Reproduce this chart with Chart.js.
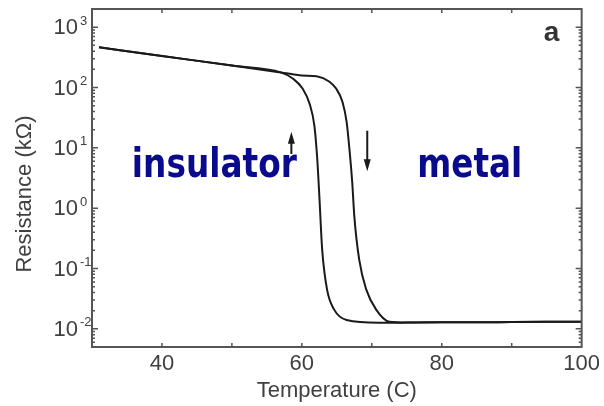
<!DOCTYPE html>
<html>
<head>
<meta charset="utf-8">
<script src="https://cdn.jsdelivr.net/npm/chart.js@4"></script>
<style>
  body { margin: 0; background: #fff; }
</style>
</head>
<body>
<canvas id="myChart" width="604" height="406"></canvas>
<script>
// insulating branch, common to both sweeps
const baseTemp = [31, 40, 50, 57];
const baseRes = [464, 333, 231, 178];

// cooling sweep (switches back at the lower temperature)
const coolTemp = [58.7, 60.1, 61.1, 61.8, 62.2, 62.5, 62.9, 63.6, 64.6, 66.4, 71, 75, 80, 85, 90, 95, 100];
const coolRes = [141, 96, 54, 23, 6.6, 1.6, 0.21, 0.045, 0.021, 0.014, 0.0126, 0.0127, 0.0129, 0.0128, 0.013, 0.0131, 0.0131];

// heating sweep
const heatTemp = [60, 62.1, 63.9, 64.9, 65.8, 66.4, 66.8, 67.2, 67.5, 68.2, 69.2, 70.6, 72.5, 75, 80, 85, 90, 95, 100];
const heatRes = [158, 153, 126, 96, 58, 27, 9.6, 2.7, 0.74, 0.14, 0.045, 0.021, 0.0131, 0.0127, 0.0129, 0.0128, 0.013, 0.0131, 0.0131];

// sweep direction arrows: temperature, start and end resistance
const arrowTemp = [58.5, 69.35];
const arrowFrom = [7.9, 19.2];
const arrowTo = [18.5, 4.1];

const xTicks = [40, 60, 80, 100];
const yDecades = [-2, -1, 0, 1, 2, 3];

const axisColor = '#555';
const textColor = '#404040';
const labelFont = '"Liberation Sans", Arial, sans-serif';

function points(t, r) {
  return t.map((v, i) => ({ x: v, y: r[i] }));
}

const coolPts = points(baseTemp.concat(coolTemp), baseRes.concat(coolRes));
const heatPts = points(baseTemp.concat(heatTemp), baseRes.concat(heatRes));

const frame = {
  id: 'frame',
  afterDatasetsDraw(chart) {
    const { ctx, chartArea: a, scales: { x, y } } = chart;
    ctx.save();

    // box
    ctx.strokeStyle = axisColor;
    ctx.lineWidth = 2;
    ctx.strokeRect(a.left, a.top, a.right - a.left, a.bottom - a.top);

    // inward ticks
    ctx.lineWidth = 1.5;
    ctx.beginPath();
    for (let t = 40; t < 100; t += 10) {
      const px = x.getPixelForValue(t);
      ctx.moveTo(px, a.bottom); ctx.lineTo(px, a.bottom - 4);
      ctx.moveTo(px, a.top); ctx.lineTo(px, a.top + 4);
    }
    for (let k = -3; k <= 3; k++) {
      for (let m = 1; m <= 9; m++) {
        const v = m * Math.pow(10, k);
        if (v < y.min || v > y.max) continue;
        const py = y.getPixelForValue(v);
        const len = m === 1 ? 6 : 3;
        ctx.moveTo(a.left, py); ctx.lineTo(a.left + len, py);
        ctx.moveTo(a.right, py); ctx.lineTo(a.right - len, py);
      }
    }
    ctx.stroke();

    // y tick labels with superscript exponents
    ctx.fillStyle = textColor;
    ctx.textBaseline = 'middle';
    yDecades.forEach(k => {
      const py = y.getPixelForValue(Math.pow(10, k));
      ctx.font = '22px ' + labelFont;
      ctx.textAlign = 'right';
      ctx.fillText('10', a.left - 14, py + 1);
      ctx.font = '13px ' + labelFont;
      ctx.textAlign = 'left';
      ctx.fillText(String(k), a.left - 12, py - 6);
    });

    // y title
    ctx.save();
    ctx.translate(25, (a.top + a.bottom) / 2 + 16);
    ctx.rotate(-Math.PI / 2);
    ctx.font = '22px ' + labelFont;
    ctx.textAlign = 'center';
    ctx.fillText('Resistance (k\u03A9)', 0, 0);
    ctx.restore();

    // sweep arrows
    ctx.strokeStyle = '#1a1a1a';
    ctx.fillStyle = '#1a1a1a';
    ctx.lineWidth = 2;
    arrowTemp.forEach((t, i) => {
      const px = x.getPixelForValue(t);
      const y0 = y.getPixelForValue(arrowFrom[i]);
      const y1 = y.getPixelForValue(arrowTo[i]);
      const dir = y1 < y0 ? -1 : 1;
      ctx.beginPath();
      ctx.moveTo(px, y0); ctx.lineTo(px, y1 - dir * 8);
      ctx.stroke();
      ctx.beginPath();
      ctx.moveTo(px, y1);
      ctx.lineTo(px - 3.5, y1 - dir * 12);
      ctx.lineTo(px + 3.5, y1 - dir * 12);
      ctx.closePath();
      ctx.fill();
    });

    // phase labels
    ctx.fillStyle = '#0a0a8c';
    ctx.font = 'bold 41px "DejaVu Sans", sans-serif';
    ctx.textAlign = 'left';
    ctx.textBaseline = 'alphabetic';
    const base = y.getPixelForValue(3.3);
    ctx.fillText('insulator', x.getPixelForValue(35.7), base, 165);
    ctx.fillText('metal', x.getPixelForValue(76.5), base, 105);

    // panel letter
    ctx.fillStyle = '#333';
    ctx.font = 'bold 28px ' + labelFont;
    ctx.fillText('a', a.right - 38, a.top + 32);
    ctx.restore();
  }
};

const ctx = document.getElementById('myChart').getContext('2d');
const myChart = new Chart(ctx, {
  type: 'line',
  data: {
    datasets: [
      { label: 'cooling', data: coolPts },
      { label: 'heating', data: heatPts }
    ]
  },
  options: {
    responsive: false,
    animation: false,
    layout: { padding: { top: 9, right: 21, left: 0, bottom: 0 } },
    elements: {
      point: { radius: 0 },
      line: { borderColor: '#1a1a1a', borderWidth: 2, cubicInterpolationMode: 'monotone', fill: false }
    },
    plugins: { legend: { display: false }, tooltip: { enabled: false } },
    scales: {
      x: {
        type: 'linear',
        min: 30,
        max: 100,
        grid: { display: false, drawTicks: false },
        border: { display: false },
        afterBuildTicks: s => { s.ticks = xTicks.map(v => ({ value: v })); },
        afterFit: s => { s.height = 59; },
        ticks: {
          autoSkip: false,
          maxRotation: 0,
          padding: 4,
          color: textColor,
          font: { family: labelFont, size: 22 }
        },
        title: {
          display: true,
          text: 'Temperature (C)',
          color: textColor,
          font: { family: labelFont, size: 22 },
          padding: { top: 0, bottom: 2 }
        }
      },
      y: {
        type: 'logarithmic',
        min: 0.005,
        max: 2000,
        grid: { display: false, drawTicks: false },
        border: { display: false },
        ticks: { display: false },
        afterFit: s => { s.width = 92; }
      }
    }
  },
  plugins: [frame]
});
</script>
</body>
</html>
